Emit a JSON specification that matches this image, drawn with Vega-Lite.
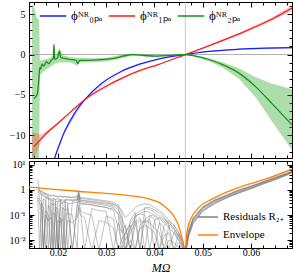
{
  "$schema": "https://vega.github.io/schema/vega-lite/v6.json",
  "padding": {"left": 8, "top": 0, "right": 1, "bottom": 0},
  "spacing": 0,
  "config": {
    "view": {"stroke": "#000000", "strokeWidth": 1},
    "font": "Liberation Serif",
    "axis": {"domainColor": "#000000", "tickColor": "#000000", "labelColor": "#000000", "labelFont": "Liberation Serif", "labelFontSize": 10, "grid": false, "titleFont": "Liberation Serif", "labelOverlap": false},
    "legend": {"labelFont": "Liberation Serif", "labelFontSize": 11, "labelColor": "#000000"}
  },
  "resolve": {"scale": {"x": "shared", "y": "independent", "color": "independent"}, "legend": {"color": "independent"}},
  "datasets": {
    "lines": [
      {"s": "0PA", "x": 0.0193, "y": -12.8},
      {"s": "0PA", "x": 0.0214, "y": -9.5},
      {"s": "0PA", "x": 0.0234, "y": -7.3},
      {"s": "0PA", "x": 0.0256, "y": -5.55},
      {"s": "0PA", "x": 0.0289, "y": -3.64},
      {"s": "0PA", "x": 0.0331, "y": -2.1},
      {"s": "0PA", "x": 0.0369, "y": -1.2},
      {"s": "0PA", "x": 0.0406, "y": -0.59},
      {"s": "0PA", "x": 0.0464, "y": 0},
      {"s": "0PA", "x": 0.0507, "y": 0.36},
      {"s": "0PA", "x": 0.0575, "y": 0.66},
      {"s": "0PA", "x": 0.063, "y": 0.79},
      {"s": "0PA", "x": 0.0685, "y": 0.86},
      {"s": "1PA", "x": 0.01505, "y": -11.4},
      {"s": "1PA", "x": 0.0173, "y": -9.94},
      {"s": "1PA", "x": 0.02, "y": -8.51},
      {"s": "1PA", "x": 0.0228, "y": -7.0},
      {"s": "1PA", "x": 0.0256, "y": -5.55},
      {"s": "1PA", "x": 0.0296, "y": -4.05},
      {"s": "1PA", "x": 0.0344, "y": -2.62},
      {"s": "1PA", "x": 0.0369, "y": -2.0},
      {"s": "1PA", "x": 0.0406, "y": -1.28},
      {"s": "1PA", "x": 0.0464, "y": 0},
      {"s": "1PA", "x": 0.0507, "y": 0.95},
      {"s": "1PA", "x": 0.0575, "y": 2.55},
      {"s": "1PA", "x": 0.0644, "y": 4.4},
      {"s": "1PA", "x": 0.0685, "y": 5.75},
      {"s": "2PA", "x": 0.01505, "y": -5.46},
      {"s": "2PA", "x": 0.01532, "y": -5.27},
      {"s": "2PA", "x": 0.01574, "y": -4.86},
      {"s": "2PA", "x": 0.01602, "y": -3.23},
      {"s": "2PA", "x": 0.01622, "y": -1.61},
      {"s": "2PA", "x": 0.01643, "y": -1.81},
      {"s": "2PA", "x": 0.0167, "y": -1.2},
      {"s": "2PA", "x": 0.01711, "y": -1.4},
      {"s": "2PA", "x": 0.01759, "y": -0.87},
      {"s": "2PA", "x": 0.01808, "y": -1.12},
      {"s": "2PA", "x": 0.01862, "y": -0.71},
      {"s": "2PA", "x": 0.01903, "y": -0.46},
      {"s": "2PA", "x": 0.01918, "y": 1.24},
      {"s": "2PA", "x": 0.01932, "y": -0.59},
      {"s": "2PA", "x": 0.01986, "y": -0.47},
      {"s": "2PA", "x": 0.02034, "y": 0.43},
      {"s": "2PA", "x": 0.02055, "y": -0.39},
      {"s": "2PA", "x": 0.02137, "y": -0.47},
      {"s": "2PA", "x": 0.0224, "y": -0.59},
      {"s": "2PA", "x": 0.02378, "y": -0.71},
      {"s": "2PA", "x": 0.02412, "y": -1.12},
      {"s": "2PA", "x": 0.02447, "y": -0.71},
      {"s": "2PA", "x": 0.02619, "y": -0.71},
      {"s": "2PA", "x": 0.02893, "y": -0.63},
      {"s": "2PA", "x": 0.03169, "y": -0.47},
      {"s": "2PA", "x": 0.03375, "y": -0.15},
      {"s": "2PA", "x": 0.03546, "y": 0},
      {"s": "2PA", "x": 0.03718, "y": -0.08},
      {"s": "2PA", "x": 0.04062, "y": -0.2},
      {"s": "2PA", "x": 0.0435, "y": -0.1},
      {"s": "2PA", "x": 0.0464, "y": 0},
      {"s": "2PA", "x": 0.0478, "y": -0.1},
      {"s": "2PA", "x": 0.0493, "y": -0.3},
      {"s": "2PA", "x": 0.0522, "y": -0.8},
      {"s": "2PA", "x": 0.0541, "y": -1.25},
      {"s": "2PA", "x": 0.0575, "y": -2.3},
      {"s": "2PA", "x": 0.061, "y": -4.0},
      {"s": "2PA", "x": 0.0644, "y": -6.1},
      {"s": "2PA", "x": 0.0685, "y": -8.7}
    ],
    "bands": [
      {"s": "2PA", "x": 0.0146, "lo": -12.8, "hi": 6.2},
      {"s": "2PA", "x": 0.015, "lo": -12.8, "hi": 5.9},
      {"s": "2PA", "x": 0.0156, "lo": -12.8, "hi": 4.6},
      {"s": "2PA", "x": 0.0161, "lo": -12.8, "hi": 4.3},
      {"s": "2PA", "x": 0.01625, "lo": -2.6, "hi": -0.8},
      {"s": "2PA", "x": 0.017, "lo": -2.1, "hi": -0.6},
      {"s": "2PA", "x": 0.018, "lo": -1.7, "hi": -0.5},
      {"s": "2PA", "x": 0.019, "lo": -1.3, "hi": -0.2},
      {"s": "2PA", "x": 0.01918, "lo": -1.2, "hi": 1.5},
      {"s": "2PA", "x": 0.0195, "lo": -1.1, "hi": -0.2},
      {"s": "2PA", "x": 0.0203, "lo": -1.0, "hi": 0.8},
      {"s": "2PA", "x": 0.021, "lo": -1.0, "hi": -0.1},
      {"s": "2PA", "x": 0.0225, "lo": -1.0, "hi": -0.3},
      {"s": "2PA", "x": 0.024, "lo": -1.4, "hi": -0.4},
      {"s": "2PA", "x": 0.0245, "lo": -1.0, "hi": -0.4},
      {"s": "2PA", "x": 0.027, "lo": -0.95, "hi": -0.45},
      {"s": "2PA", "x": 0.03, "lo": -0.85, "hi": -0.4},
      {"s": "2PA", "x": 0.033, "lo": -0.45, "hi": -0.05},
      {"s": "2PA", "x": 0.0355, "lo": -0.15, "hi": 0.12},
      {"s": "2PA", "x": 0.04, "lo": -0.35, "hi": 0},
      {"s": "2PA", "x": 0.0464, "lo": 0, "hi": 0},
      {"s": "2PA", "x": 0.0493, "lo": -0.42, "hi": -0.2},
      {"s": "2PA", "x": 0.0522, "lo": -1.05, "hi": -0.6},
      {"s": "2PA", "x": 0.0541, "lo": -1.6, "hi": -0.95},
      {"s": "2PA", "x": 0.0575, "lo": -3.0, "hi": -1.7},
      {"s": "2PA", "x": 0.061, "lo": -5.3, "hi": -2.8},
      {"s": "2PA", "x": 0.0644, "lo": -8.3, "hi": -3.6},
      {"s": "2PA", "x": 0.0685, "lo": -11.8, "hi": -4.3},
      {"s": "1PA", "x": 0.0146, "lo": -12.8, "hi": -9.6},
      {"s": "1PA", "x": 0.0155, "lo": -12.2, "hi": -9.7},
      {"s": "1PA", "x": 0.0162, "lo": -11.2, "hi": -9.9},
      {"s": "1PA", "x": 0.017, "lo": -10.3, "hi": -9.7},
      {"s": "1PA", "x": 0.02, "lo": -8.6, "hi": -8.42},
      {"s": "1PA", "x": 0.0256, "lo": -5.6, "hi": -5.5},
      {"s": "1PA", "x": 0.0344, "lo": -2.66, "hi": -2.58},
      {"s": "1PA", "x": 0.0464, "lo": 0, "hi": 0},
      {"s": "1PA", "x": 0.0507, "lo": 0.88, "hi": 1.02},
      {"s": "1PA", "x": 0.0575, "lo": 2.43, "hi": 2.67},
      {"s": "1PA", "x": 0.0644, "lo": 4.2, "hi": 4.6},
      {"s": "1PA", "x": 0.0685, "lo": 5.45, "hi": 6.05},
      {"s": "0PA", "x": 0.0214, "lo": -9.6, "hi": -9.4},
      {"s": "0PA", "x": 0.0256, "lo": -5.62, "hi": -5.5},
      {"s": "0PA", "x": 0.0331, "lo": -2.14, "hi": -2.06},
      {"s": "0PA", "x": 0.0406, "lo": -0.61, "hi": -0.57},
      {"s": "0PA", "x": 0.0464, "lo": 0, "hi": 0},
      {"s": "0PA", "x": 0.0507, "lo": 0.32, "hi": 0.4},
      {"s": "0PA", "x": 0.0575, "lo": 0.6, "hi": 0.73},
      {"s": "0PA", "x": 0.0685, "lo": 0.76, "hi": 0.96}
    ],
    "env": [
      {"x": 0.014, "e": 1.28},
      {"x": 0.018, "e": 1.1},
      {"x": 0.0241, "e": 0.88},
      {"x": 0.03, "e": 0.72},
      {"x": 0.0344, "e": 0.6},
      {"x": 0.0369, "e": 0.53},
      {"x": 0.039, "e": 0.43},
      {"x": 0.041, "e": 0.31},
      {"x": 0.0425, "e": 0.19},
      {"x": 0.0439, "e": 0.097},
      {"x": 0.0452, "e": 0.029},
      {"x": 0.0458, "e": 0.01},
      {"x": 0.0462, "e": 0.0035},
      {"x": 0.0464, "e": 0.001},
      {"x": 0.0465, "e": 0.005},
      {"x": 0.04687, "e": 0.029},
      {"x": 0.04757, "e": 0.072},
      {"x": 0.04893, "e": 0.177},
      {"x": 0.052, "e": 0.436},
      {"x": 0.0575, "e": 1.25},
      {"x": 0.063, "e": 2.65},
      {"x": 0.0685, "e": 6.6}
    ],
    "res": [
      {"x": 0.0158, "a": 0.95, "b": 0.8, "c": 0.7, "d": 0.6, "e": 2.4, "f": 0.5, "g": 0.85, "h": 0.9, "i": 0.4, "j": 1.1},
      {"x": 0.0162, "a": 1.0, "b": 0.7, "c": 0.6, "d": 0.004, "e": 0.9, "f": 0.4, "g": 0.75, "h": 0.85, "i": 0.3, "j": 0.95},
      {"x": 0.0166, "a": 0.85, "b": 0.6, "c": 0.004, "d": 0.3, "e": 0.8, "f": 0.35, "g": 0.65, "h": 0.7, "i": 0.15, "j": 0.9},
      {"x": 0.017, "a": 0.75, "b": 0.004, "c": 0.45, "d": 0.2, "e": 0.7, "f": 0.004, "g": 0.55, "h": 0.62, "i": 0.004, "j": 0.8},
      {"x": 0.0175, "a": 0.7, "b": 0.5, "c": 0.35, "d": 0.004, "e": 0.65, "f": 0.15, "g": 0.5, "h": 0.55, "i": 0.1, "j": 0.72},
      {"x": 0.018, "a": 0.6, "b": 0.45, "c": 0.004, "d": 0.25, "e": 0.55, "f": 0.1, "g": 0.42, "h": 0.5, "i": 0.06, "j": 0.66},
      {"x": 0.0185, "a": 0.55, "b": 0.35, "c": 0.3, "d": 0.15, "e": 0.004, "f": 0.004, "g": 0.45, "h": 0.42, "i": 0.08, "j": 0.6},
      {"x": 0.019, "a": 0.6, "b": 0.4, "c": 0.25, "d": 0.004, "e": 0.45, "f": 0.12, "g": 0.004, "h": 0.45, "i": 0.05, "j": 0.62},
      {"x": 0.0195, "a": 0.55, "b": 0.005, "c": 0.3, "d": 0.2, "e": 0.4, "f": 0.1, "g": 0.35, "h": 0.42, "i": 0.004, "j": 0.58},
      {"x": 0.02, "a": 0.5, "b": 0.38, "c": 0.004, "d": 0.18, "e": 0.45, "f": 0.004, "g": 0.33, "h": 0.004, "i": 0.06, "j": 0.56},
      {"x": 0.0205, "a": 0.55, "b": 0.4, "c": 0.28, "d": 0.004, "e": 0.4, "f": 0.08, "g": 0.35, "h": 0.42, "i": 0.05, "j": 0.57},
      {"x": 0.021, "a": 0.5, "b": 0.35, "c": 0.3, "d": 0.2, "e": 0.004, "f": 0.004, "g": 0.3, "h": 0.4, "i": 0.07, "j": 0.54},
      {"x": 0.0215, "a": 0.52, "b": 0.36, "c": 0.004, "d": 0.15, "e": 0.42, "f": 0.1, "g": 0.33, "h": 0.38, "i": 0.004, "j": 0.55},
      {"x": 0.022, "a": 0.5, "b": 0.004, "c": 0.28, "d": 0.18, "e": 0.4, "f": 0.12, "g": 0.3, "h": 0.4, "i": 0.06, "j": 0.53},
      {"x": 0.023, "a": 0.48, "b": 0.35, "c": 0.3, "d": 0.004, "e": 0.4, "f": 0.1, "g": 0.004, "h": 0.38, "i": 0.05, "j": 0.52},
      {"x": 0.024, "a": 0.5, "b": 0.38, "c": 0.32, "d": 0.22, "e": 0.42, "f": 0.004, "g": 0.28, "h": 0.4, "i": 0.08, "j": 0.55},
      {"x": 0.0243, "a": 0.9, "b": 0.6, "c": 0.5, "d": 0.35, "e": 0.7, "f": 0.25, "g": 0.45, "h": 0.6, "i": 0.2, "j": 0.85},
      {"x": 0.0246, "a": 0.45, "b": 0.35, "c": 0.3, "d": 0.2, "e": 0.4, "f": 0.15, "g": 0.27, "h": 0.38, "i": 0.1, "j": 0.5},
      {"x": 0.0255, "a": 0.44, "b": 0.32, "c": 0.28, "d": 0.004, "e": 0.38, "f": 0.12, "g": 0.27, "h": 0.36, "i": 0.08, "j": 0.48},
      {"x": 0.027, "a": 0.4, "b": 0.3, "c": 0.26, "d": 0.18, "e": 0.35, "f": 0.1, "g": 0.25, "h": 0.33, "i": 0.004, "j": 0.44},
      {"x": 0.0285, "a": 0.37, "b": 0.27, "c": 0.23, "d": 0.15, "e": 0.32, "f": 0.004, "g": 0.22, "h": 0.3, "i": 0.06, "j": 0.4},
      {"x": 0.03, "a": 0.33, "b": 0.24, "c": 0.2, "d": 0.14, "e": 0.3, "f": 0.09, "g": 0.2, "h": 0.27, "i": 0.05, "j": 0.37},
      {"x": 0.0315, "a": 0.28, "b": 0.2, "c": 0.15, "d": 0.004, "e": 0.26, "f": 0.07, "g": 0.17, "h": 0.23, "i": 0.03, "j": 0.32},
      {"x": 0.0325, "a": 0.2, "b": 0.1, "c": 0.03, "d": 0.05, "e": 0.22, "f": 0.004, "g": 0.12, "h": 0.16, "i": 0.004, "j": 0.25},
      {"x": 0.0332, "a": 0.05, "b": 0.004, "c": 0.01, "d": 0.02, "e": 0.15, "f": 0.006, "g": 0.03, "h": 0.08, "i": 0.01, "j": 0.12},
      {"x": 0.034, "a": 0.01, "b": 0.02, "c": 0.004, "d": 0.04, "e": 0.08, "f": 0.004, "g": 0.004, "h": 0.03, "i": 0.02, "j": 0.004},
      {"x": 0.035, "a": 0.03, "b": 0.05, "c": 0.03, "d": 0.004, "e": 0.12, "f": 0.01, "g": 0.02, "h": 0.004, "i": 0.04, "j": 0.06},
      {"x": 0.036, "a": 0.08, "b": 0.09, "c": 0.06, "d": 0.04, "e": 0.2, "f": 0.004, "g": 0.05, "h": 0.1, "i": 0.004, "j": 0.13},
      {"x": 0.037, "a": 0.12, "b": 0.11, "c": 0.004, "d": 0.06, "e": 0.25, "f": 0.03, "g": 0.08, "h": 0.15, "i": 0.04, "j": 0.004},
      {"x": 0.038, "a": 0.14, "b": 0.1, "c": 0.07, "d": 0.05, "e": 0.28, "f": 0.04, "g": 0.004, "h": 0.18, "i": 0.06, "j": 0.2},
      {"x": 0.039, "a": 0.13, "b": 0.004, "c": 0.09, "d": 0.07, "e": 0.26, "f": 0.03, "g": 0.1, "h": 0.17, "i": 0.05, "j": 0.2},
      {"x": 0.04, "a": 0.1, "b": 0.06, "c": 0.07, "d": 0.004, "e": 0.2, "f": 0.02, "g": 0.09, "h": 0.13, "i": 0.03, "j": 0.16},
      {"x": 0.041, "a": 0.07, "b": 0.08, "c": 0.004, "d": 0.05, "e": 0.15, "f": 0.004, "g": 0.06, "h": 0.09, "i": 0.02, "j": 0.12},
      {"x": 0.042, "a": 0.05, "b": 0.06, "c": 0.04, "d": 0.03, "e": 0.1, "f": 0.015, "g": 0.004, "h": 0.07, "i": 0.004, "j": 0.08},
      {"x": 0.043, "a": 0.06, "b": 0.03, "c": 0.05, "d": 0.004, "e": 0.06, "f": 0.02, "g": 0.04, "h": 0.05, "i": 0.01, "j": 0.04},
      {"x": 0.044, "a": 0.04, "b": 0.02, "c": 0.03, "d": 0.02, "e": 0.04, "f": 0.004, "g": 0.025, "h": 0.03, "i": 0.008, "j": 0.004},
      {"x": 0.045, "a": 0.02, "b": 0.01, "c": 0.015, "d": 0.01, "e": 0.02, "f": 0.008, "g": 0.012, "h": 0.015, "i": 0.005, "j": 0.018},
      {"x": 0.0458, "a": 0.01, "b": 0.006, "c": 0.007, "d": 0.005, "e": 0.01, "f": 0.004, "g": 0.006, "h": 0.008, "i": 0.004, "j": 0.009},
      {"x": 0.0463, "a": 0.004, "b": 0.003, "c": 0.003, "d": 0.003, "e": 0.004, "f": 0.003, "g": 0.003, "h": 0.004, "i": 0.003, "j": 0.004},
      {"x": 0.0466, "a": 0.006, "b": 0.005, "c": 0.004, "d": 0.005, "e": 0.007, "f": 0.004, "g": 0.005, "h": 0.006, "i": 0.004, "j": 0.006},
      {"x": 0.047, "a": 0.02, "b": 0.017, "c": 0.014, "d": 0.016, "e": 0.022, "f": 0.012, "g": 0.018, "h": 0.021, "i": 0.013, "j": 0.021},
      {"x": 0.048, "a": 0.07, "b": 0.06, "c": 0.05, "d": 0.055, "e": 0.075, "f": 0.045, "g": 0.065, "h": 0.072, "i": 0.048, "j": 0.073},
      {"x": 0.05, "a": 0.2, "b": 0.18, "c": 0.15, "d": 0.16, "e": 0.21, "f": 0.14, "g": 0.19, "h": 0.205, "i": 0.145, "j": 0.205},
      {"x": 0.0525, "a": 0.38, "b": 0.35, "c": 0.3, "d": 0.32, "e": 0.4, "f": 0.28, "g": 0.36, "h": 0.39, "i": 0.29, "j": 0.39},
      {"x": 0.055, "a": 0.6, "b": 0.55, "c": 0.5, "d": 0.52, "e": 0.62, "f": 0.48, "g": 0.58, "h": 0.61, "i": 0.49, "j": 0.61},
      {"x": 0.0575, "a": 0.95, "b": 0.85, "c": 0.78, "d": 0.8, "e": 1.0, "f": 0.74, "g": 0.9, "h": 0.97, "i": 0.76, "j": 0.98},
      {"x": 0.06, "a": 1.35, "b": 1.25, "c": 1.15, "d": 1.2, "e": 1.4, "f": 1.1, "g": 1.3, "h": 1.38, "i": 1.12, "j": 1.38},
      {"x": 0.0625, "a": 2.0, "b": 1.9, "c": 1.75, "d": 1.8, "e": 2.1, "f": 1.7, "g": 1.95, "h": 2.05, "i": 1.72, "j": 2.05},
      {"x": 0.065, "a": 3.0, "b": 2.8, "c": 2.6, "d": 2.7, "e": 3.1, "f": 2.5, "g": 2.9, "h": 3.05, "i": 2.55, "j": 3.05},
      {"x": 0.0675, "a": 4.5, "b": 4.2, "c": 4.0, "d": 4.1, "e": 4.6, "f": 3.9, "g": 4.35, "h": 4.55, "i": 3.95, "j": 4.5},
      {"x": 0.0685, "a": 5.4, "b": 5.1, "c": 4.9, "d": 5.0, "e": 5.5, "f": 4.8, "g": 5.25, "h": 5.45, "i": 4.85, "j": 5.4}
    ]
  },
  "vconcat": [
    {
      "width": 263,
      "height": 156,
      "layer": [
        {
          "data": {"name": "bands"},
          "transform": [{"filter": "datum.s == '2PA'"}],
          "mark": {"type": "area", "color": "#33aa33", "opacity": 0.4, "clip": true},
          "encoding": {
            "x": {"field": "x", "type": "quantitative", "scale": {"domain": [0.014, 0.0685], "nice": false, "zero": false},
              "axis": {"orient": "bottom", "title": null, "labels": false, "values": [0.015, 0.0175, 0.02, 0.0225, 0.025, 0.0275, 0.03, 0.0325, 0.035, 0.0375, 0.04, 0.0425, 0.045, 0.0475, 0.05, 0.0525, 0.055, 0.0575, 0.06, 0.0625, 0.065, 0.0675],
                "tickSize": {"condition": {"test": "datum.value == 0.02 || datum.value == 0.03 || datum.value == 0.04 || datum.value == 0.05 || datum.value == 0.06", "value": -5}, "value": -3}}},
            "y": {"field": "lo", "type": "quantitative", "scale": {"domain": [-12.8, 6.5], "nice": false, "zero": false},
              "axis": {"orient": "left", "title": null, "values": [-12, -11, -10, -9, -8, -7, -6, -5, -4, -3, -2, -1, 0, 1, 2, 3, 4, 5, 6],
                "labelExpr": "datum.value == 5 ? '5' : datum.value == 0 ? '0' : datum.value == -5 ? '−5' : datum.value == -10 ? '−10' : ''",
                "tickSize": {"condition": {"test": "datum.value == 5 || datum.value == 0 || datum.value == -5 || datum.value == -10", "value": -5}, "value": -3}, "labelPadding": 9}},
            "y2": {"field": "hi"}
          }
        },
        {
          "data": {"name": "bands"},
          "transform": [{"filter": "datum.s == '1PA'"}],
          "mark": {"type": "area", "color": "#ff3333", "opacity": 0.3, "clip": true},
          "encoding": {"x": {"field": "x", "type": "quantitative", "axis": null}, "y": {"field": "lo", "type": "quantitative", "axis": null}, "y2": {"field": "hi"}}
        },
        {
          "data": {"name": "bands"},
          "transform": [{"filter": "datum.s == '0PA'"}],
          "mark": {"type": "area", "color": "#3333ff", "opacity": 0.3, "clip": true},
          "encoding": {"x": {"field": "x", "type": "quantitative", "axis": null}, "y": {"field": "lo", "type": "quantitative", "axis": null}, "y2": {"field": "hi"}}
        },
        {
          "data": {"values": [{"v": 0}]},
          "mark": {"type": "rule", "color": "#999999", "strokeWidth": 0.8},
          "encoding": {"y": {"field": "v", "type": "quantitative",
            "axis": {"orient": "right", "title": null, "labels": false, "values": [-12, -11, -10, -9, -8, -7, -6, -5, -4, -3, -2, -1, 0, 1, 2, 3, 4, 5, 6],
              "tickSize": {"condition": {"test": "datum.value == 5 || datum.value == 0 || datum.value == -5 || datum.value == -10", "value": -5}, "value": -3}}}}
        },
        {
          "data": {"values": [{"v": 0.0464}]},
          "mark": {"type": "rule", "color": "#bbbbbb", "strokeWidth": 0.8},
          "encoding": {"x": {"field": "v", "type": "quantitative",
            "axis": {"orient": "top", "title": null, "labels": false, "values": [0.015, 0.0175, 0.02, 0.0225, 0.025, 0.0275, 0.03, 0.0325, 0.035, 0.0375, 0.04, 0.0425, 0.045, 0.0475, 0.05, 0.0525, 0.055, 0.0575, 0.06, 0.0625, 0.065, 0.0675],
              "tickSize": {"condition": {"test": "datum.value == 0.02 || datum.value == 0.03 || datum.value == 0.04 || datum.value == 0.05 || datum.value == 0.06", "value": -5}, "value": -3}}}}
        },
        {
          "data": {"name": "lines"},
          "mark": {"type": "line", "interpolate": "monotone", "clip": true, "strokeWidth": 1.3},
          "encoding": {
            "x": {"field": "x", "type": "quantitative", "axis": null},
            "y": {"field": "y", "type": "quantitative", "axis": null},
            "color": {"field": "s", "type": "nominal",
              "scale": {"domain": ["0PA", "1PA", "2PA"], "range": ["#1a1aff", "#ff1a1a", "#129412"]},
              "legend": {"orient": "none", "legendX": 10, "legendY": 0, "direction": "horizontal", "title": null, "symbolType": "stroke", "symbolSize": 700, "symbolStrokeWidth": 1.5, "columnPadding": 2, "labelFontSize": 13, "labelOffset": 4,
                "labelExpr": "datum.value == '0PA' ? 'ϕᴺᴿ₀ₚₐ' : datum.value == '1PA' ? 'ϕᴺᴿ₁ₚₐ' : 'ϕᴺᴿ₂ₚₐ'"}}
          }
        }
      ]
    },
    {
      "width": 263,
      "height": 87,
      "layer": [
        {
          "data": {"values": [{"v": 0.0464}]},
          "mark": {"type": "rule", "color": "#bbbbbb", "strokeWidth": 0.8},
          "encoding": {"x": {"field": "v", "type": "quantitative",
            "scale": {"domain": [0.014, 0.0685], "nice": false, "zero": false},
            "axis": {"orient": "bottom", "title": "MΩ", "titleFontStyle": "italic", "titleFontWeight": "normal", "titleFontSize": 12, "titlePadding": 3,
              "values": [0.015, 0.0175, 0.02, 0.0225, 0.025, 0.0275, 0.03, 0.0325, 0.035, 0.0375, 0.04, 0.0425, 0.045, 0.0475, 0.05, 0.0525, 0.055, 0.0575, 0.06, 0.0625, 0.065, 0.0675],
              "labelExpr": "datum.value == 0.02 ? '0.02' : datum.value == 0.03 ? '0.03' : datum.value == 0.04 ? '0.04' : datum.value == 0.05 ? '0.05' : datum.value == 0.06 ? '0.06' : ''",
              "tickSize": {"condition": {"test": "datum.value == 0.02 || datum.value == 0.03 || datum.value == 0.04 || datum.value == 0.05 || datum.value == 0.06", "value": -5}, "value": -3}, "labelPadding": 4}}}
        },
        {
          "data": {"name": "res"},
          "transform": [{"fold": ["a", "b", "c", "d", "e", "f", "g", "h", "i", "j"], "as": ["id", "r"]}],
          "mark": {"type": "line", "clip": true, "strokeWidth": 0.7, "opacity": 0.7},
          "encoding": {
            "x": {"field": "x", "type": "quantitative",
              "axis": {"orient": "top", "title": null, "labels": false, "values": [0.015, 0.0175, 0.02, 0.0225, 0.025, 0.0275, 0.03, 0.0325, 0.035, 0.0375, 0.04, 0.0425, 0.045, 0.0475, 0.05, 0.0525, 0.055, 0.0575, 0.06, 0.0625, 0.065, 0.0675],
                "tickSize": {"condition": {"test": "datum.value == 0.02 || datum.value == 0.03 || datum.value == 0.04 || datum.value == 0.05 || datum.value == 0.06", "value": -5}, "value": -3}}},
            "y": {"field": "r", "type": "quantitative", "scale": {"type": "log", "domain": [0.0049, 14]},
              "axis": {"orient": "left", "title": null, "values": [0.005, 0.006, 0.007, 0.008, 0.009, 0.01, 0.02, 0.03, 0.04, 0.05, 0.06, 0.07, 0.08, 0.09, 0.1, 0.2, 0.3, 0.4, 0.5, 0.6, 0.7, 0.8, 0.9, 1, 2, 3, 4, 5, 6, 7, 8, 9, 10],
                "labelExpr": "datum.value == 10 ? '10¹' : datum.value == 1 ? '1' : datum.value == 0.1 ? '10⁻¹' : datum.value == 0.01 ? '10⁻²' : ''",
                "tickSize": {"condition": {"test": "datum.value == 10 || datum.value == 1 || datum.value == 0.1 || datum.value == 0.01", "value": -5}, "value": -3}, "labelPadding": 9}},
            "detail": {"field": "id"},
            "color": {"datum": "Residuals R₂₊",
              "scale": {"domain": ["Residuals R₂₊", "Envelope"], "range": ["#808080", "#ff8000"]},
              "legend": {"orient": "bottom-right", "title": null, "symbolType": "stroke", "symbolSize": 400, "symbolStrokeWidth": 1.5, "symbolOpacity": 1, "offset": 8, "rowPadding": 2}}
          }
        },
        {
          "data": {"name": "env"},
          "mark": {"type": "line", "clip": true, "strokeWidth": 1.3, "interpolate": "monotone"},
          "encoding": {
            "x": {"field": "x", "type": "quantitative", "axis": null},
            "y": {"field": "e", "type": "quantitative", "scale": {"type": "log", "domain": [0.0049, 14]},
              "axis": {"orient": "right", "title": null, "labels": false, "values": [0.005, 0.006, 0.007, 0.008, 0.009, 0.01, 0.02, 0.03, 0.04, 0.05, 0.06, 0.07, 0.08, 0.09, 0.1, 0.2, 0.3, 0.4, 0.5, 0.6, 0.7, 0.8, 0.9, 1, 2, 3, 4, 5, 6, 7, 8, 9, 10],
                "tickSize": {"condition": {"test": "datum.value == 10 || datum.value == 1 || datum.value == 0.1 || datum.value == 0.01", "value": -5}, "value": -3}}},
            "color": {"datum": "Envelope"}
          }
        }
      ]
    }
  ]
}
